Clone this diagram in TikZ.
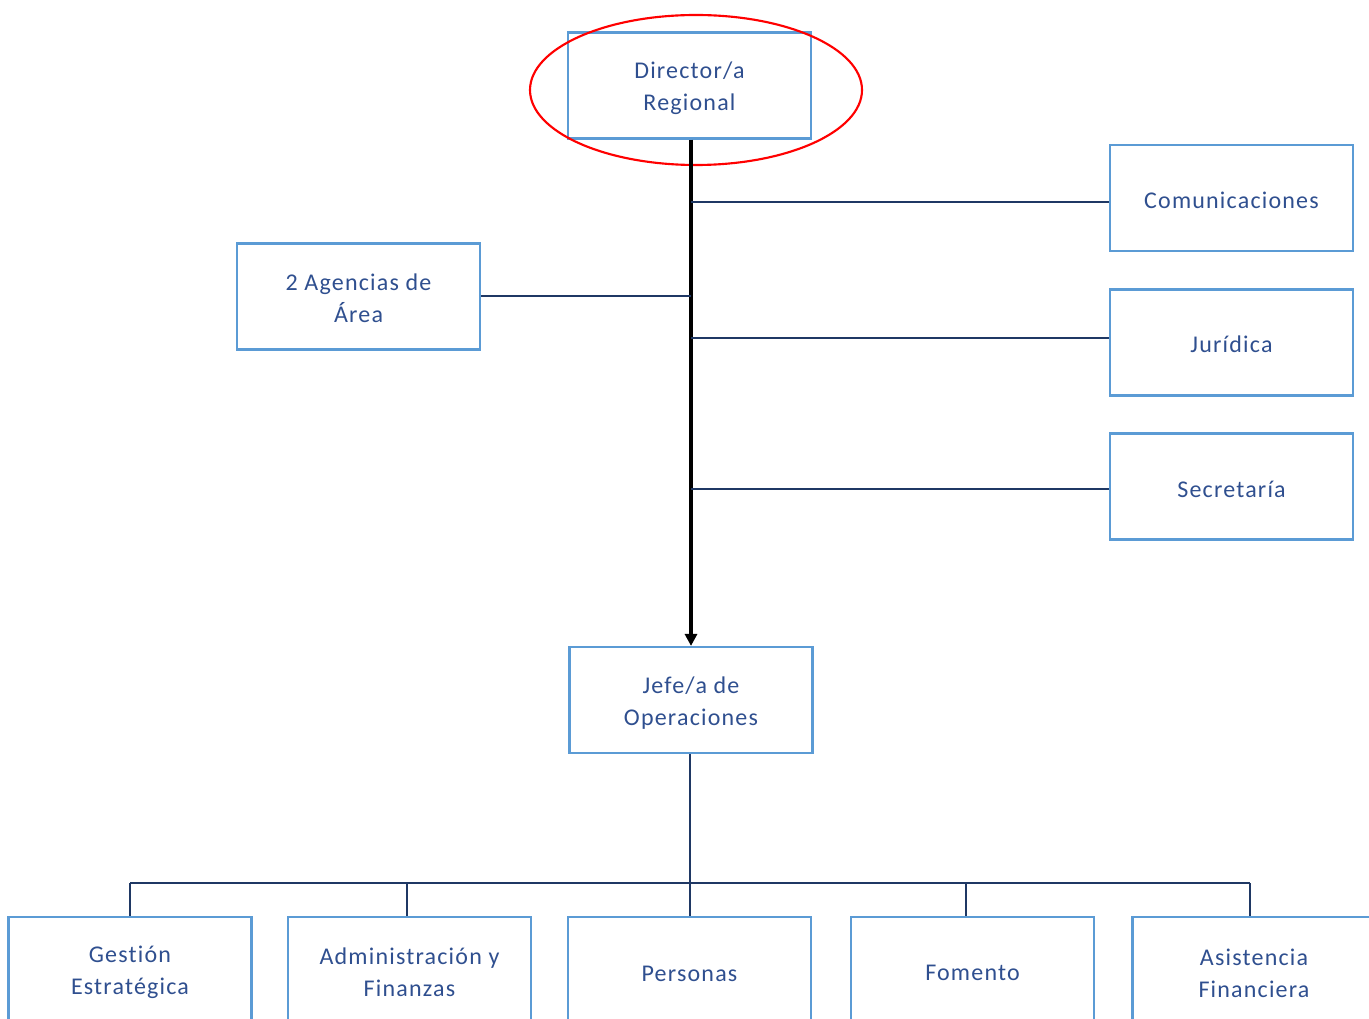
\documentclass[tikz,border=0pt]{standalone}
\usepackage{fontspec}
\setmainfont{Carlito}[LetterSpace=5,Ligatures={NoCommon}]
\usetikzlibrary{arrows.meta}
\definecolor{boxblue}{HTML}{5B9BD5}
\definecolor{txtblue}{HTML}{2F4F8F}
\definecolor{navy}{HTML}{1F3864}
\begin{document}
\begin{tikzpicture}[x=0.75pt,y=-0.75pt,
  unit/.style={draw=boxblue,line width=1.6pt,minimum width=243*0.75pt,minimum height=106*0.75pt,
    align=center,text=txtblue,font=\fontsize{18}{24}\selectfont,inner sep=0pt},
  lbl/.style={text=txtblue,font=\fontsize{18}{24}\selectfont,align=center},
  link/.style={draw=navy,line width=1.7pt},
  main/.style={draw=black,line width=2.8pt}]
\useasboundingbox (0,0) rectangle (1369,1019);
\node[unit] (dir) at (689.5,85.5) {};
\node[lbl] (tdir) at (689.5,88) {Director/a\\Regional};
\draw[red,line width=1.6pt] (696,90) ellipse [x radius=166*0.75pt,y radius=75*0.75pt];
\node[unit] (com) at (1231.5,198) {};
\node[lbl] (tcom) at (1231.5,200) {Comunicaciones};
\node[unit] (jur) at (1231.5,342.5) {};
\node[lbl] (tjur) at (1231.5,344) {Jurídica};
\node[unit] (sec) at (1231.5,486.5) {};
\node[lbl] (tsec) at (1231.5,489) {Secretaría};
\node[unit] (age) at (358.5,296.5) {};
\node[lbl] (tage) at (358.5,298.5) {2 Agencias de\\Área};
\node[unit] (jef) at (691,700) {};
\node[lbl] (tjef) at (691,703) {Jefe/a de\\Operaciones};
\node[unit,anchor=north] (ges) at (130,916) {};
\node[unit,anchor=north] (adm) at (409.5,916) {};
\node[unit,anchor=north] (per) at (689.5,916) {};
\node[unit,anchor=north] (fom) at (972.5,916) {};
\node[unit,anchor=north] (asi) at (1254,916) {};
\node[lbl] (tges) at (130,972) {Gestión\\Estratégica};
\node[lbl] (tadm) at (409.5,972) {Administración y\\Finanzas};
\node[lbl] (tper) at (689.5,974) {Personas};
\node[lbl] (tfom) at (972.5,973) {Fomento};
\node[lbl] (tasi) at (1254,973) {Asistencia\\Financiera};
% main arrow
\draw[main,-{Triangle[length=9pt,width=9pt]}] (dir.south -| 691,0) -- (jef.north -| 691,0);
\coordinate (c1) at (691,202);
\coordinate (c2) at (691,296);
\coordinate (c3) at (691,338);
\coordinate (c4) at (691,489);
\draw[link] (c1) -- (c1 -| com.west);
\draw[link] (c2) -- (c2 -| age.east);
\draw[link] (c3) -- (c3 -| com.west);
\draw[link] (c4) -- (c4 -| com.west);
% lower tree
\coordinate (bus) at (690,883);
\draw[link] (jef.south -| 690,0) -- (bus);
\draw[link] (130,883) -- (1250,883);
\draw[link] (130,883) -- (130,916);
\draw[link] (407,883) -- (407,916);
\draw[link] (690,883) -- (690,916);
\draw[link] (966,883) -- (966,916);
\draw[link] (1250,883) -- (1250,916);
\end{tikzpicture}
\end{document}
